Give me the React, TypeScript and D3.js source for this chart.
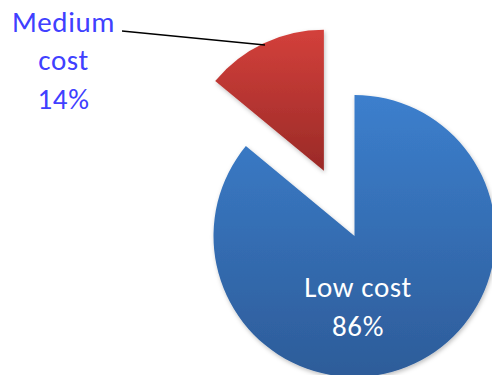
import React from "react";
import * as d3 from "d3";

const categories = ["Low cost", "Medium cost"];
const values = [86, 14];
const percentLabels = ["86%", "14%"];

export default function App() {
  const width = 492;
  const height = 375;
  const cx = 354.5;
  const cy = 236;
  const r = 141;
  const explode = [0, 72];

  const pie = d3.pie<number>().sort(null).startAngle(0).endAngle(2 * Math.PI);
  const arcs = pie(values);
  const arcGen = d3.arc<d3.PieArcDatum<number>>().innerRadius(0).outerRadius(r);

  const fills = ["url(#gBlue)", "url(#gRed)"];

  const offset = (a: d3.PieArcDatum<number>, i: number) => {
    const mid = (a.startAngle + a.endAngle) / 2;
    return [Math.sin(mid) * explode[i], -Math.cos(mid) * explode[i]];
  };

  const font = "Carlito, Lato, 'Open Sans', sans-serif";

  return (
    <svg
      width={width}
      height={height}
      style={{ position: "absolute", left: 0, top: 0, display: "block" }}
    >
      <defs>
        <linearGradient id="gBlue" x1="0" y1="0" x2="0" y2="1">
          <stop offset="0" stopColor="#3c7fcd" />
          <stop offset="1" stopColor="#2d5c99" />
        </linearGradient>
        <linearGradient id="gRed" x1="0" y1="0" x2="0" y2="1">
          <stop offset="0" stopColor="#d3403b" />
          <stop offset="1" stopColor="#9a2a27" />
        </linearGradient>
        <filter id="shadow" x="-20%" y="-20%" width="140%" height="140%">
          <feDropShadow dx="1" dy="2" stdDeviation="2" floodColor="#000" floodOpacity="0.25" />
        </filter>
      </defs>
      <rect width={width} height={height} fill="#ffffff" />
      {arcs.map((a, i) => {
        const [dx, dy] = offset(a, i);
        return (
          <path
            key={categories[i]}
            d={arcGen(a) || ""}
            transform={`translate(${cx + dx},${cy + dy})`}
            fill={fills[i]}
            filter="url(#shadow)"
          />
        );
      })}
      <line x1={122} y1={31} x2={265} y2={45} stroke="#000" strokeWidth={1.5} />
      <g fontFamily={font} fontSize={29} fill="#4040ff" textAnchor="middle" letterSpacing={0.6}>
        <text x={63.5} y={32}>Medium</text>
        <text x={63.5} y={70}>cost</text>
        <text x={63.5} y={109}>{percentLabels[1]}</text>
      </g>
      <g fontFamily={font} fontSize={29} fill="#ffffff" textAnchor="middle" letterSpacing={0.6}>
        <text x={358} y={297}>{categories[0]}</text>
        <text x={358} y={336}>{percentLabels[0]}</text>
      </g>
    </svg>
  );
}
